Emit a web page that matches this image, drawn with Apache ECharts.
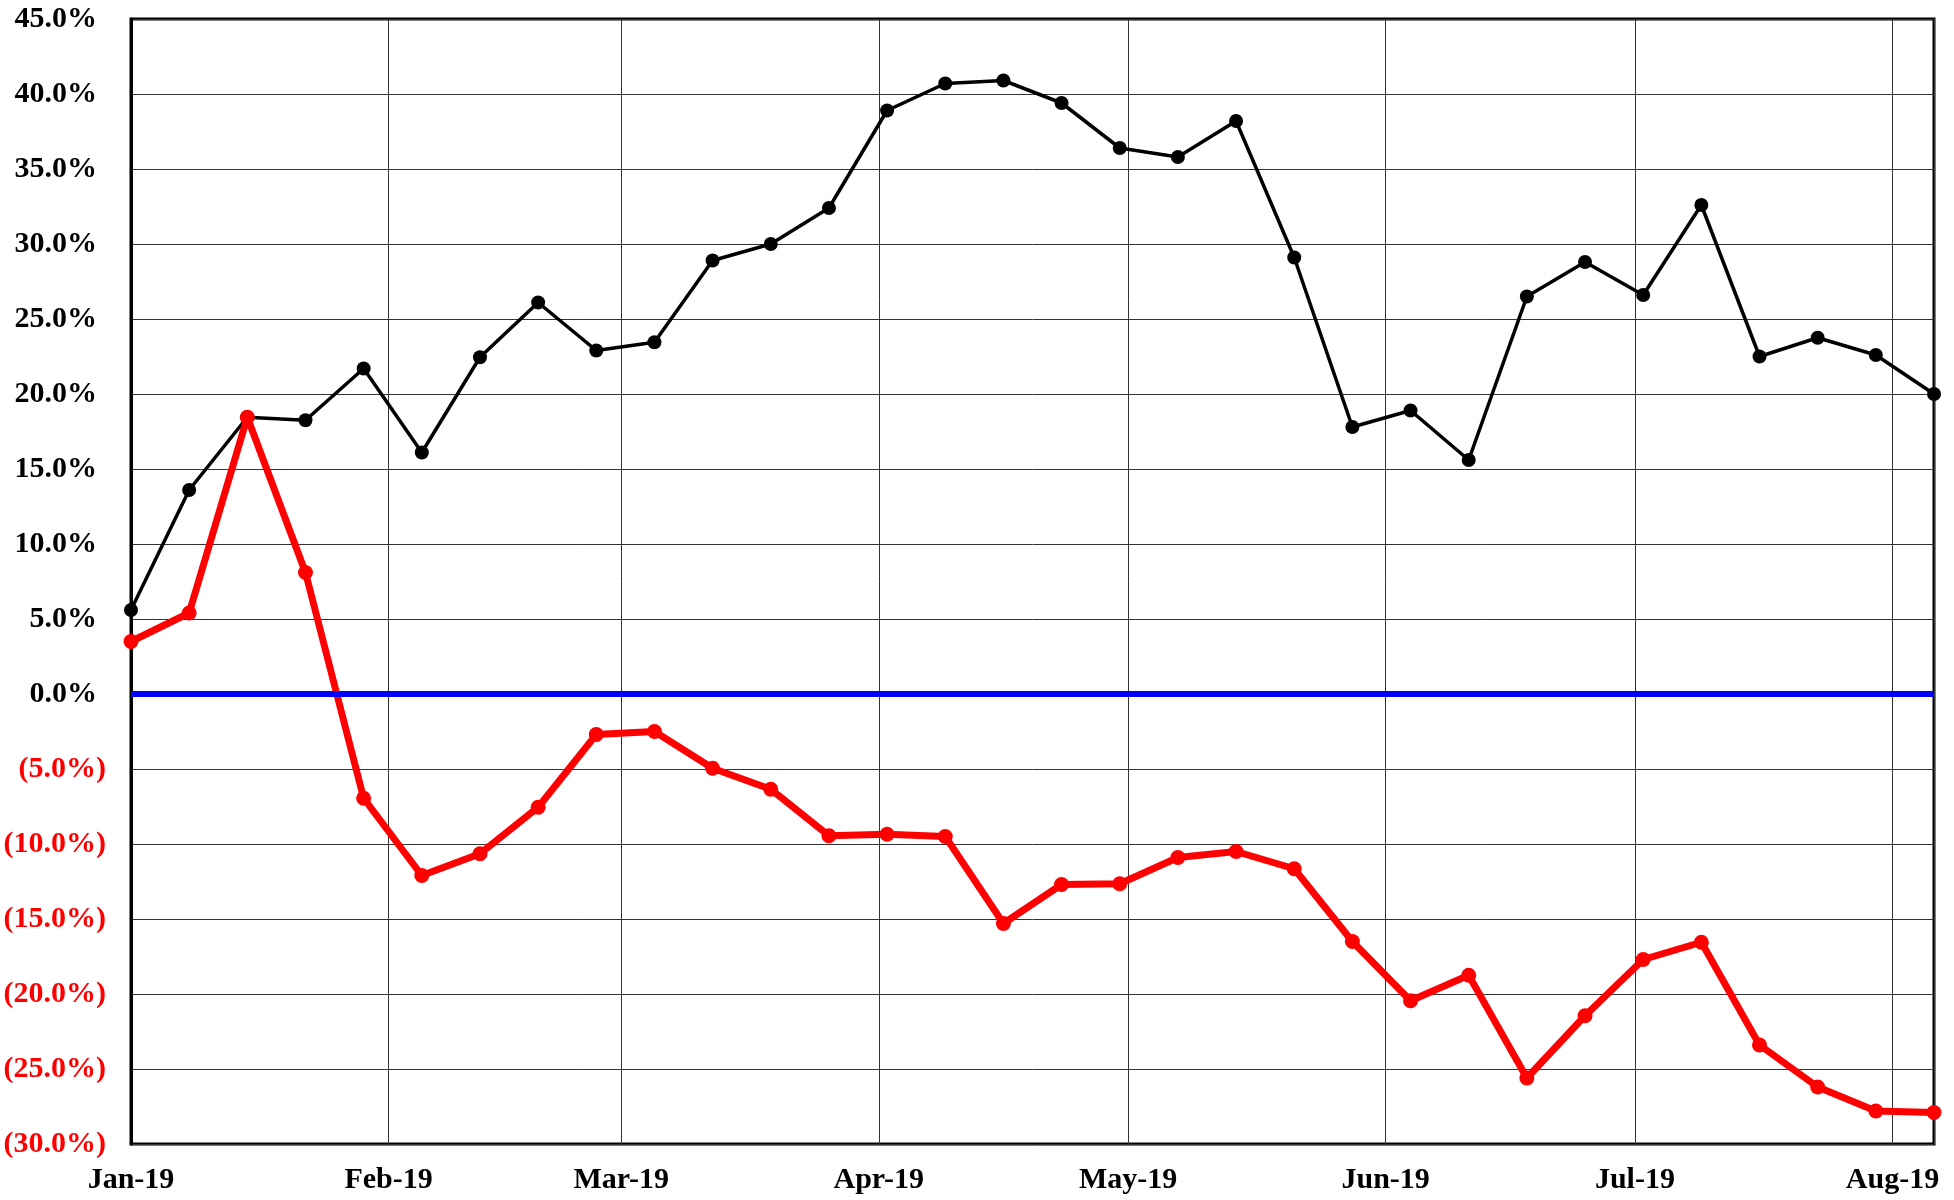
<!DOCTYPE html>
<html>
<head>
<meta charset="utf-8">
<title>Weekly returns 2019</title>
<script src="https://cdn.jsdelivr.net/npm/echarts@6/dist/echarts.min.js"></script>
<style>
  html, body { margin: 0; padding: 0; background: #fff; }
  #chart { width: 1954px; height: 1200px; }
</style>
</head>
<body>
<div id="chart"></div>
<script>
// weekly observations, Jan-19 .. Aug-19
const weeks = [
  '2019-01-01', '2019-01-08', '2019-01-15', '2019-01-22', '2019-01-29',
  '2019-02-05', '2019-02-12', '2019-02-19', '2019-02-26', '2019-03-05',
  '2019-03-12', '2019-03-19', '2019-03-26', '2019-04-02', '2019-04-09',
  '2019-04-16', '2019-04-23', '2019-04-30', '2019-05-07', '2019-05-14',
  '2019-05-21', '2019-05-28', '2019-06-04', '2019-06-11', '2019-06-18',
  '2019-06-25', '2019-07-02', '2019-07-09', '2019-07-16', '2019-07-23',
  '2019-07-30', '2019-08-06'
];

// black series (%)
const blackValues = [
  5.6, 13.6, 18.45, 18.25, 21.7, 16.1, 22.45, 26.1, 22.9, 23.45,
  28.9, 30.0, 32.4, 38.9, 40.7, 40.9, 39.4, 36.4, 35.8, 38.2,
  29.1, 17.8, 18.9, 15.6, 26.5, 28.8, 26.6, 32.6, 22.5, 23.75,
  22.6, 20.0
];

// red series (%)
const redValues = [
  3.5, 5.4, 18.45, 8.1, -6.95, -12.1, -10.65, -7.55, -2.7, -2.5,
  -4.95, -6.35, -9.45, -9.35, -9.5, -15.3, -12.7, -12.65, -10.9, -10.5,
  -11.65, -16.5, -20.45, -18.75, -25.6, -21.45, -17.7, -16.55, -23.4, -26.2,
  -27.8, -27.9
];

const yTicks = { min: -30, max: 45, step: 5 };
const months = ['Jan', 'Feb', 'Mar', 'Apr', 'May', 'Jun', 'Jul', 'Aug', 'Sep', 'Oct', 'Nov', 'Dec'];

const font = 'Liberation Serif, Times New Roman, serif';

function pairs(vals) {
  return vals.map((v, i) => [weeks[i], v]);
}

const chart = echarts.init(document.getElementById('chart'));

chart.setOption({
  animation: false,
  backgroundColor: '#fff',
  grid: {
    left: 131, right: 20, top: 19, bottom: 56,
    show: true, borderColor: '#000', borderWidth: 3
  },
  xAxis: {
    type: 'time',
    min: weeks[0],
    max: weeks[weeks.length - 1],
    minInterval: 28 * 86400000,
    maxInterval: 31 * 86400000,
    axisLine: { show: false },
    axisTick: { show: false },
    splitLine: { show: true, lineStyle: { color: '#333', width: 1 } },
    axisLabel: {
      margin: 21,
      fontFamily: font, fontWeight: 'bold', fontSize: 30, color: '#000',
      showMaxLabel: false,
      formatter: function (val) {
        const d = new Date(val);
        if (d.getDate() !== 1) return '';
        return months[d.getMonth()] + '-' + String(d.getFullYear()).slice(2);
      }
    }
  },
  yAxis: {
    type: 'value',
    min: yTicks.min, max: yTicks.max, interval: yTicks.step,
    axisLine: { show: true, lineStyle: { color: '#000', width: 3 } },
    axisTick: { show: false },
    splitLine: { show: true, lineStyle: { color: '#333', width: 1 } },
    axisLabel: {
      margin: 25,
      formatter: function (v) {
        if (v < 0) return '{neg|(' + (-v).toFixed(1) + '%)}';
        return '{pos|' + v.toFixed(1) + '%}';
      },
      rich: {
        pos: { fontFamily: font, fontWeight: 'bold', fontSize: 30, color: '#000', padding: [0, 9, 0, 0] },
        neg: { fontFamily: font, fontWeight: 'bold', fontSize: 30, color: '#ff0000' }
      }
    }
  },
  series: [
    {
      name: 'black',
      type: 'line',
      data: pairs(blackValues),
      symbol: 'circle',
      symbolSize: 14,
      itemStyle: { color: '#000' },
      lineStyle: { color: '#000', width: 3.5 },
      markLine: {
        silent: true,
        symbol: 'none',
        label: { show: false },
        lineStyle: { color: '#0000ff', width: 6, type: 'solid' },
        data: [{ yAxis: 0 }]
      }
    },
    {
      name: 'red',
      type: 'line',
      data: pairs(redValues),
      symbol: 'circle',
      symbolSize: 15,
      itemStyle: { color: '#ff0000' },
      lineStyle: { color: '#ff0000', width: 7 }
    }
  ]
});
</script>
</body>
</html>
